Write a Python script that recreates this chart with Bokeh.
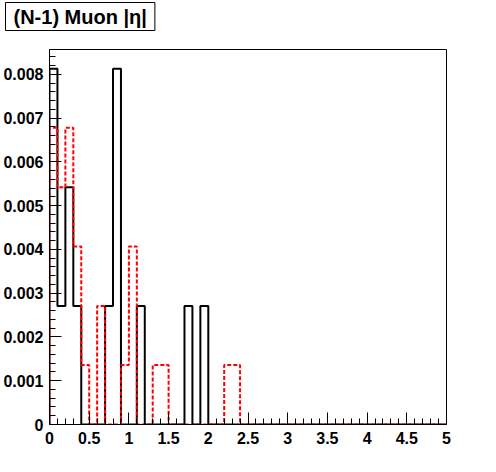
from bokeh.plotting import figure
from bokeh.models import FixedTicker, Range1d, Title
from bokeh.embed import file_html
from bokeh.resources import INLINE

# ---- data ----
bin_width = 0.1
n_bins = 50
black_vals = [0.00813, 0.00271, 0.00542, 0.00271, 0, 0, 0, 0.00271, 0.00813, 0,
              0, 0.00271, 0, 0, 0, 0, 0, 0.00271, 0, 0.00271] + [0] * 30
red_vals = [0.00678, 0.00542, 0.00678, 0.00407, 0.00136, 0, 0.00271, 0, 0, 0.00136,
            0.00407, 0, 0, 0.00136, 0.00136, 0, 0, 0, 0, 0,
            0, 0, 0.00136, 0.00136] + [0] * 26
x_ticks = [0, 0.5, 1, 1.5, 2, 2.5, 3, 3.5, 4, 4.5, 5]
x_tick_labels = ["0", "0.5", "1", "1.5", "2", "2.5", "3", "3.5", "4", "4.5", "5"]
y_ticks = [0, 0.001, 0.002, 0.003, 0.004, 0.005, 0.006, 0.007, 0.008]
y_tick_labels = ["0", "0.001", "0.002", "0.003", "0.004", "0.005", "0.006", "0.007", "0.008"]
title_text = "(N-1) Muon |\u03b7|"

edges = [i * bin_width for i in range(n_bins + 1)]


def outline(vals):
    xs, ys = [edges[0]], [0]
    for i, v in enumerate(vals):
        xs += [edges[i], edges[i + 1]]
        ys += [v, v]
    xs.append(edges[-1])
    ys.append(0)
    return xs, ys


title = Title(text=title_text, align="left", offset=-44, standoff=0,
              text_font="Liberation Sans", text_font_style="bold", text_font_size="20px",
              text_color="black", border_line_color="black", border_line_width=1,
              background_fill_color="white",
              padding=dict(left=8, right=8, top=3, bottom=3))

p = figure(width=496, height=472, output_backend="svg", toolbar_location=None,
           x_range=Range1d(0, 5), y_range=Range1d(0, 0.00857), title=title,
           min_border_left=49, min_border_right=50, min_border_top=47, min_border_bottom=48)
# empty spacer between the title box and the frame
p.add_layout(Title(text=" ", text_font_size="1px", standoff=16), "above")

p.xgrid.visible = False
p.ygrid.visible = False
p.outline_line_color = "black"
p.outline_line_width = 1
p.background_fill_color = "white"
p.border_fill_color = "white"

bx, by = outline(black_vals)
p.line(bx, by, line_color="black", line_width=2)
rx, ry = outline(red_vals)
p.line(rx, ry, line_color="red", line_width=2, line_dash="4 2")

x_minor = [round(i * 0.1, 2) for i in range(51)]
y_minor = [round(i * 0.0002, 5) for i in range(43)]
p.xaxis.ticker = FixedTicker(ticks=x_ticks, minor_ticks=x_minor)
p.yaxis.ticker = FixedTicker(ticks=y_ticks, minor_ticks=y_minor)
p.xaxis.major_label_overrides = {t: l for t, l in zip(x_ticks, x_tick_labels)}
p.yaxis.major_label_overrides = {t: l for t, l in zip(y_ticks, y_tick_labels)}

for ax in (p.xaxis, p.yaxis):
    ax.major_tick_in = 12
    ax.major_tick_out = 0
    ax.minor_tick_in = 6
    ax.minor_tick_out = 0
    ax.axis_line_color = "black"
    ax.major_tick_line_color = "black"
    ax.minor_tick_line_color = "black"
    ax.major_label_text_font = "Liberation Sans"
    ax.major_label_text_font_style = "bold"
    ax.major_label_text_font_size = "16px"
    ax.major_label_text_color = "black"
p.xaxis.major_label_standoff = 7
p.yaxis.major_label_standoff = 6

open("out.html", "w").write(file_html(p, INLINE))
